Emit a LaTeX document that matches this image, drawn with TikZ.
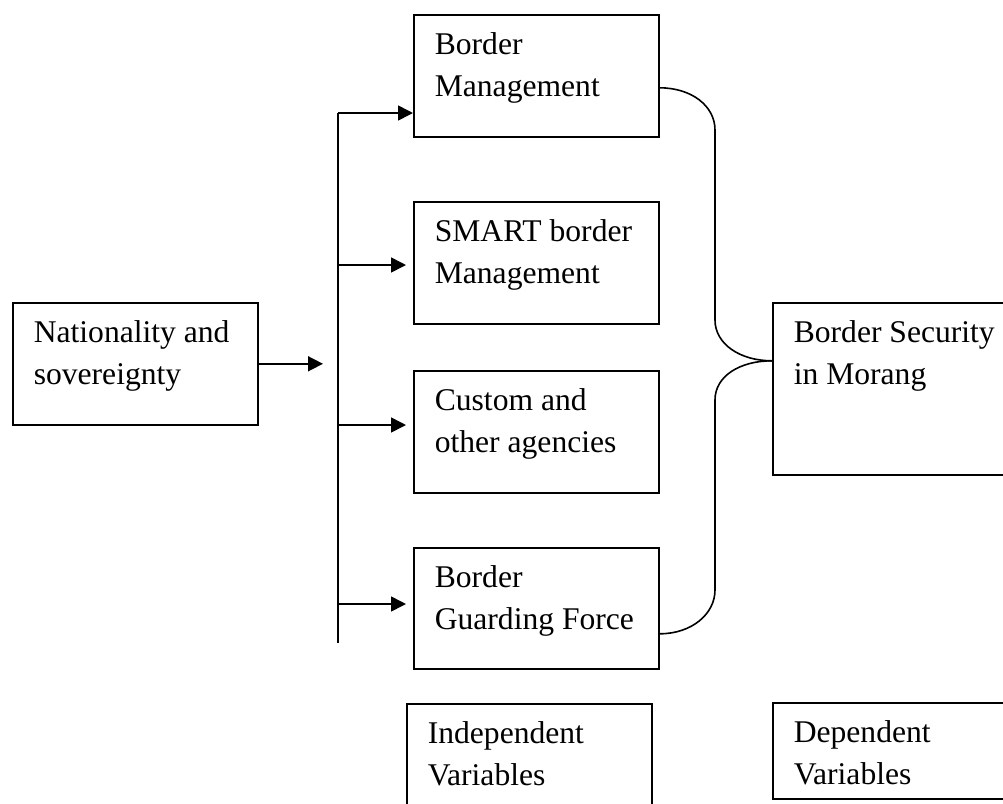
\documentclass[tikz,border=0pt]{standalone}
\usepackage{fontspec}
\setmainfont{Liberation Serif}
\usetikzlibrary{arrows.meta,positioning,calc}

\begin{document}
\begin{tikzpicture}[x=0.5pt, y=-0.5pt, line width=.8pt,
box/.style={draw,anchor=north west,inner sep=0pt,minimum width=122.5pt,minimum height=61pt},
lbl/.style={anchor=north west,align=left,inner xsep=10.5pt,inner ysep=9pt,
  font=\fontsize{15.8pt}{21pt}\selectfont},
arr/.style={-{Triangle[length=7.5pt,width=7.5pt]}}]

\clip (0,0) rectangle (1003,804);

%independent
\node[box] (nat) at (12,302) {};
\node[box] (bm) at (413,14) {};
\node[box] (smart) at (413,201) {};
\node[box] (cust) at (413,370) {};
\node[box, minimum height=60.5pt] (bgf) at (413,547) {};

\node[lbl] (natt) at (nat.north west) {Nationality and\\sovereignty};
\node[lbl] (bmt) at (bm.north west) {Border\\Management};
\node[lbl] (smartt) at (smart.north west) {SMART border\\Management};
\node[lbl] (custt) at (cust.north west) {Custom and\\other agencies};
\node[lbl] (bgft) at (bgf.north west) {Border\\Guarding Force};

%dependent
\node[box, minimum width=125pt, minimum height=86pt] (bsec) at (772,302) {};
\node[lbl] (bsect) at (bsec.north west) {Border Security\\in Morang};

%legend
\node[box, minimum height=63.5pt] (indep) at (406,703) {};
\node[lbl] (indept) at (indep.north west) {Independent\\Variables};
\node[box, minimum width=125pt, minimum height=48pt] (dep) at (772,702) {};
\node[lbl] (dept) at (dep.north west) {Dependent\\Variables};

% trunk
\coordinate (hub) at (323,361);
\coordinate (top) at (338,113);
\coordinate (bot) at (338,643);
\draw[arr] (nat.east) -- (nat.east -| hub);
\draw (top) -- (bot);
\draw[arr] (top) -- (top -| bm.west);

\foreach \n/\y in {s/265,c/425,g/604}
{\coordinate (b\n) at (338,\y);
 \coordinate (t\n) at (406,\y);
 \draw[arr] (b\n) -- (t\n);}

% brace
\coordinate (j) at ([yshift=14pt]bsec.west);
\draw ([yshift=-6pt]bm.east) .. controls +(32,0) and +(0,-24) .. (715,130)
  -- (715,320) .. controls +(0,24) and +(-32,0) .. (j);
\draw (j) .. controls +(-32,0) and +(0,-24) .. (715,400)
  -- (715,590) .. controls +(0,24) and +(32,0) .. ([yshift=-12.75pt]bgf.east);
\end{tikzpicture}
\end{document}
